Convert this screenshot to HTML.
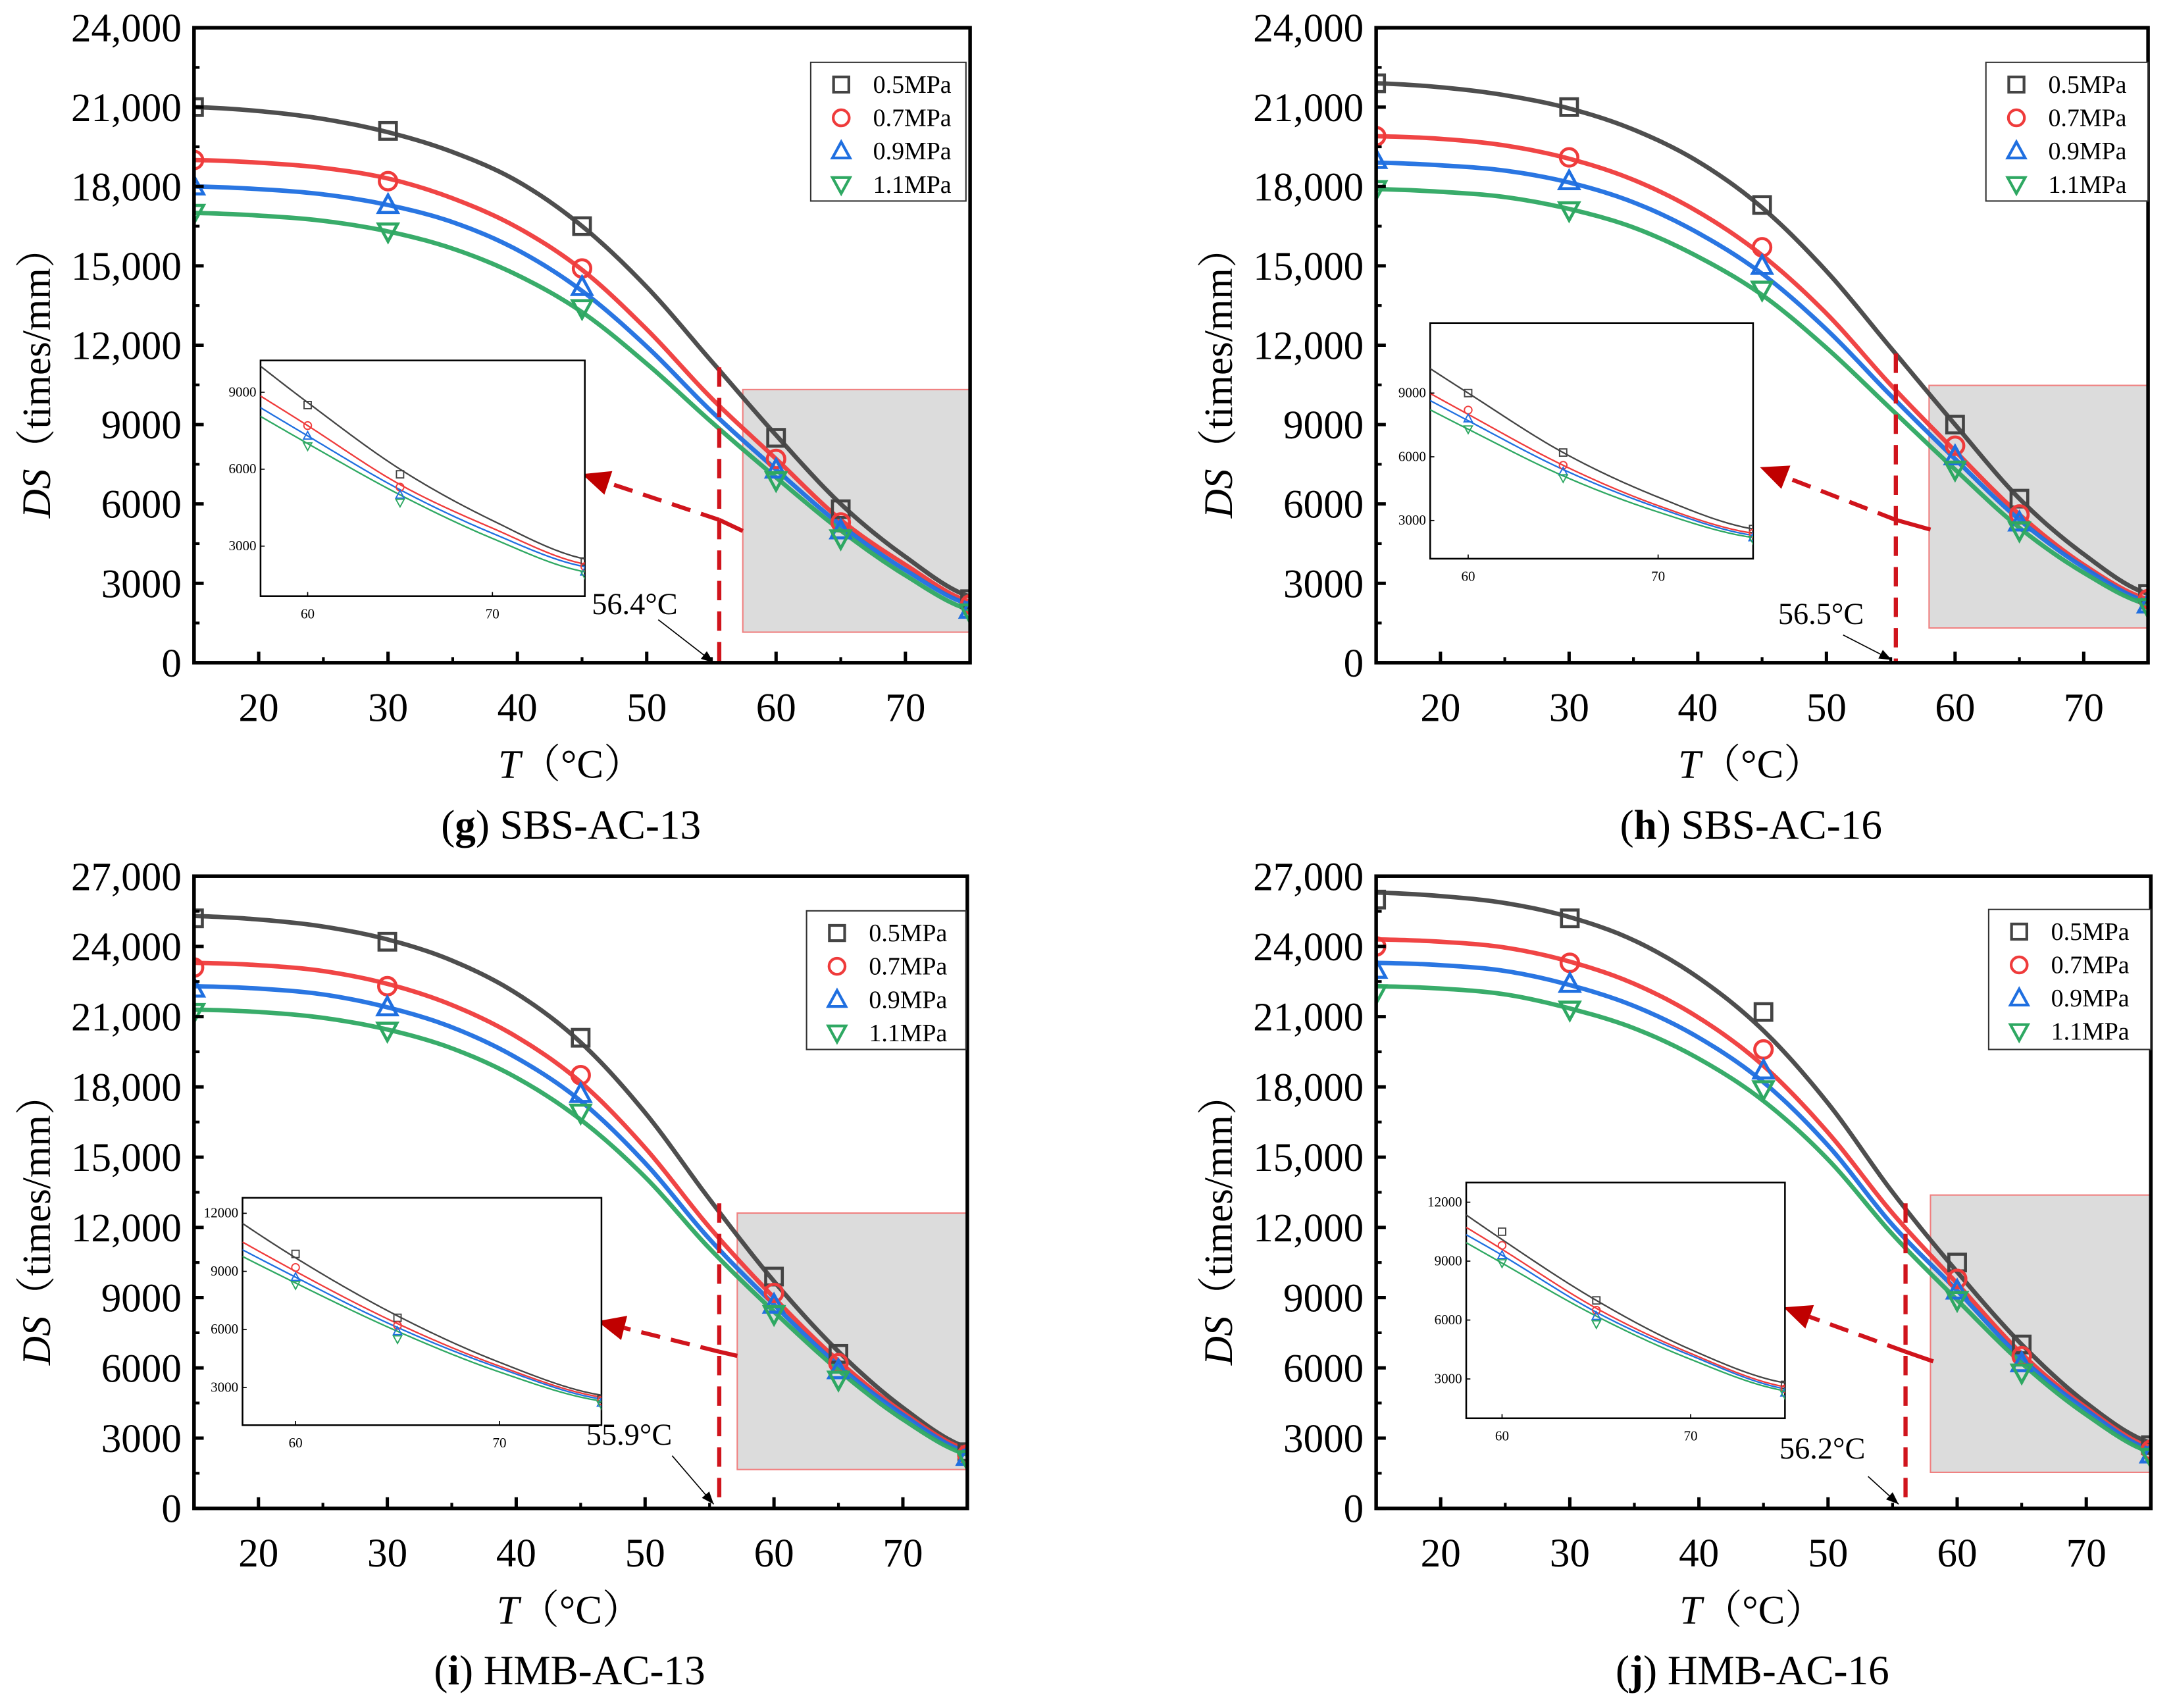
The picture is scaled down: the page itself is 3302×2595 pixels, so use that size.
<!DOCTYPE html>
<html><head><meta charset="utf-8"><style>
html,body{margin:0;padding:0;background:#fff}
svg{display:block}
svg text{font-family:"Liberation Serif","DejaVu Serif","Noto Serif CJK SC",serif}
</style></head><body>
<svg id="fig" width="3302" height="2595" viewBox="0 0 1568 1232" preserveAspectRatio="none" font-family="Liberation Serif, DejaVu Serif, serif" xmlns="http://www.w3.org/2000/svg"></svg>
<script>
// ---- data ----
const curveT = [15,20,25,30,35,40,45,50,55,60,65,70,75];
const markerT = [15,30,45,60,65,75];
const seriesNames = ["0.5MPa","0.7MPa","0.9MPa","1.1MPa"];
const seriesColors = ["#444444","#ef3b3b","#1f6fe0","#2ea862"];

const gCurve05=[21000,20850,20550,20050,19300,18200,16500,14200,11400,8600,6000,4000,2500];
const gCurve07=[19000,18900,18700,18300,17550,16450,14850,12600,10000,7700,5400,3700,2300];
const gCurve09=[18000,17900,17700,17300,16650,15600,14050,11950,9500,7300,5200,3500,2200];
const gCurve11=[17000,16900,16700,16300,15650,14650,13250,11300,9100,7000,5000,3300,2000];
const gMark05=[21000,20100,16500,8500,5800,2400];
const gMark07=[19000,18200,14900,7700,5300,2200];
const gMark09=[18000,17300,14200,7300,5000,2000];
const gMark11=[17000,16300,13400,6900,4700,1900];

const hCurve05=[21900,21750,21450,20950,20150,18950,17200,14800,11900,9000,6200,4100,2600];
const hCurve07=[19900,19800,19550,19050,18250,17050,15400,13200,10500,8000,5600,3700,2400];
const hCurve09=[18900,18800,18600,18150,17400,16250,14700,12600,10100,7700,5400,3600,2300];
const hCurve11=[17900,17800,17600,17150,16450,15350,13900,11900,9600,7300,5100,3400,2200];
const hMark05=[21900,21000,17300,9000,6200,2600];
const hMark07=[19900,19100,15700,8200,5600,2400];
const hMark09=[19000,18200,15000,7800,5300,2200];
const hMark11=[17900,17100,14100,7300,5000,2100];

const iCurve05=[25300,25150,24850,24300,23400,22000,19900,16900,13200,9700,6700,4300,2600];
const iCurve07=[23300,23200,22950,22400,21500,20150,18200,15400,12000,9000,6300,4100,2500];
const iCurve09=[22300,22200,21950,21400,20550,19250,17400,14750,11500,8700,6100,4000,2400];
const iCurve11=[21300,21200,20950,20450,19650,18400,16600,14150,11100,8400,5900,3800,2300];
const iMark05=[25200,24200,20100,9900,6600,2400];
const iMark07=[23100,22300,18500,9200,6200,2300];
const iMark09=[22200,21400,17700,8700,5900,2200];
const iMark11=[21200,20400,16900,8300,5500,2100];

const jCurve05=[26300,26150,25850,25250,24250,22650,20400,17300,13500,10100,7000,4500,2800];
const jCurve07=[24300,24200,23950,23350,22400,20950,18900,16050,12600,9600,6600,4300,2600];
const jCurve09=[23300,23200,22950,22350,21450,20100,18200,15500,12100,9300,6400,4200,2500];
const jCurve11=[22300,22200,21950,21350,20500,19200,17400,14900,11700,8900,6200,4000,2400];
const jMark05=[26000,25200,21200,10500,7000,2700];
const jMark07=[24000,23300,19600,9800,6500,2500];
const jMark09=[23000,22400,18700,9300,6200,2300];
const jMark11=[22000,21300,17900,8900,5800,2200];

const xTickVals=[20,30,40,50,60,70];
const yTicks24=[0,3000,6000,9000,12000,15000,18000,21000,24000];
const yTicks27=[0,3000,6000,9000,12000,15000,18000,21000,24000,27000];
const yTickLabels24=["0","3000","6000","9000","12,000","15,000","18,000","21,000","24,000"];
const yTickLabels27=["0","3000","6000","9000","12,000","15,000","18,000","21,000","24,000","27,000"];
const insetYTicks3=[3000,6000,9000];
const insetYTicks4=[3000,6000,9000,12000];
const insetXTicks=[60,70];
const criticalTemps=["56.4°C","56.5°C","55.9°C","56.2°C"];
const captionLetters=["g","h","i","j"];
const captionNames=[" SBS-AC-13"," SBS-AC-16"," HMB-AC-13"," HMB-AC-16"];

// ---- layout ----
const panels=[
 {id:"g",L:140,R:700,T:20,B:478,ymax:24000,ticks:yTicks24,labels:yTickLabels24,curves:[gCurve05,gCurve07,gCurve09,gCurve11],marks:[gMark05,gMark07,gMark09,gMark11],
  box:[536,281,700,456],vx:519,vtop:265,arrow:[[536,383],[519,375],[420,342]],lab:[427,443],sa:[[475,447],[515,478]],
  inset:{L:188,R:422,T:260,B:430,xmin:57.45,xmax:75,ymin:1050,ymax:10240,ticks:insetYTicks3},legend:[585,45,697,145]},
 {id:"h",L:993,R:1550,T:20,B:478,ymax:24000,ticks:yTicks24,labels:yTickLabels24,curves:[hCurve05,hCurve07,hCurve09,hCurve11],marks:[hMark05,hMark07,hMark09,hMark11],
  box:[1392,278,1550,453],vx:1368,vtop:255,arrow:[[1393,382],[1368,375],[1270,337]],lab:[1283,450],sa:[[1330,458],[1365,476]],
  inset:{L:1032,R:1265,T:233,B:403,xmin:58,xmax:75,ymin:1200,ymax:12300,ticks:insetYTicks3},legend:[1433,45,1550,145]},
 {id:"i",L:140,R:698,T:632,B:1088,ymax:27000,ticks:yTicks27,labels:yTickLabels27,curves:[iCurve05,iCurve07,iCurve09,iCurve11],marks:[iMark05,iMark07,iMark09,iMark11],
  box:[532,875,698,1060],vx:519,vtop:868,arrow:[[532,978],[519,975],[431,953]],lab:[423,1042],sa:[[485,1050],[515,1085]],
  inset:{L:175,R:434,T:864,B:1028,xmin:57.4,xmax:75,ymin:1050,ymax:12800,ticks:insetYTicks4},legend:[582,657,697,757]},
 {id:"j",L:993,R:1552,T:632,B:1088,ymax:27000,ticks:yTicks27,labels:yTickLabels27,curves:[jCurve05,jCurve07,jCurve09,jCurve11],marks:[jMark05,jMark07,jMark09,jMark11],
  box:[1393,862,1552,1062],vx:1375,vtop:868,arrow:[[1395,982],[1375,975],[1287,943]],lab:[1284,1052],sa:[[1348,1065],[1370,1085]],
  inset:{L:1058,R:1288,T:853,B:1023,xmin:58.1,xmax:75,ymin:1000,ymax:13000,ticks:insetYTicks4},legend:[1435,656,1552,757]}
];

const NS="http://www.w3.org/2000/svg";
const svg=document.getElementById("fig");
function mk(tag,attrs,parent){const e=document.createElementNS(NS,tag);for(const k in attrs)e.setAttribute(k,attrs[k]);(parent||svg).appendChild(e);return e;}

function interp(xs,ys,x){
  let i=0;while(i<xs.length-2&&x>xs[i+1])i++;
  const p0=ys[Math.max(i-1,0)],p1=ys[i],p2=ys[i+1],p3=ys[Math.min(i+2,ys.length-1)];
  const t=(x-xs[i])/(xs[i+1]-xs[i]);
  return 0.5*((2*p1)+(-p0+p2)*t+(2*p0-5*p1+4*p2-p3)*t*t+(-p0+3*p1-3*p2+p3)*t*t*t);
}
function curvePath(xs,ys,sx,sy,x0,x1){
  let d="";const n=160;
  for(let k=0;k<=n;k++){const x=x0+(x1-x0)*k/n;d+=(k?"L":"M")+sx(x).toFixed(2)+","+sy(interp(xs,ys,x)).toFixed(2);}
  return d;
}
function marker(g,type,cx,cy,s,color,w){
  let e;
  if(type===0)e=mk("rect",{x:cx-s,y:cy-s,width:2*s,height:2*s},g);
  else if(type===1)e=mk("circle",{cx:cx,cy:cy,r:s*1.05},g);
  else if(type===2)e=mk("path",{d:`M${cx},${cy-s*1.2}L${cx+s*1.15},${cy+s*0.9}L${cx-s*1.15},${cy+s*0.9}Z`},g);
  else e=mk("path",{d:`M${cx},${cy+s*1.2}L${cx+s*1.15},${cy-s*0.9}L${cx-s*1.15},${cy-s*0.9}Z`},g);
  e.setAttribute("fill","none");e.setAttribute("stroke",color);e.setAttribute("stroke-width",w);
  return e;
}

panels.forEach((p,pi)=>{
  const g=mk("g",{});
  
  
  const sx=v=>p.L+(v-15)/60*(p.R-p.L);
  const sy=v=>p.B-v/p.ymax*(p.B-p.T);
  const clip=mk("clipPath",{id:"clip"+p.id},g);
  mk("rect",{x:p.L,y:p.T,width:p.R-p.L,height:p.B-p.T},clip);

  const bx=mk("rect",{x:p.box[0],y:p.box[1],width:p.box[2]-p.box[0],height:p.box[3]-p.box[1],fill:"#dcdcdc",stroke:"#f08080","stroke-width":1},g);
  
  

  const cg=mk("g",{"clip-path":`url(#clip${p.id})`},g);
  p.curves.forEach((c,si)=>{
    const path=mk("path",{d:curvePath(curveT,c,sx,sy,15,75),fill:"none",stroke:seriesColors[si],"stroke-width":3.2,opacity:0.95},cg);
    
    
  });
  p.marks.forEach((m,si)=>{
    m.forEach((v,k)=>{
      const e=marker(cg,si,sx(markerT[k]),sy(v),6,seriesColors[si],2.2);
      
      
    });
  });

  const vl=mk("line",{x1:p.vx,y1:p.vtop,x2:p.vx,y2:p.B,stroke:"#d0141c","stroke-width":3,"stroke-dasharray":"14,8"},g);
  
  
  const a=p.arrow;
  const ar=mk("polyline",{points:a.slice(0,2).map(q=>q.join(",")).join(" "),fill:"none",stroke:"#d0141c","stroke-width":3},g);
  
  
  const dx=a[2][0]-a[1][0],dy=a[2][1]-a[1][1],len=Math.hypot(dx,dy),ux=dx/len,uy=dy/len;
  const tipBase=[a[2][0]-ux*20,a[2][1]-uy*20];
  const ad=mk("line",{x1:a[1][0],y1:a[1][1],x2:tipBase[0],y2:tipBase[1],stroke:"#d0141c","stroke-width":3,"stroke-dasharray":"14,8"},g);
  
  
  const ah=mk("path",{d:`M${a[2][0]},${a[2][1]}L${tipBase[0]-uy*9},${tipBase[1]+ux*9}L${tipBase[0]+uy*9},${tipBase[1]-ux*9}Z`,fill:"#c00000"},g);
  
  

  const s=p.sa;
  mk("line",{x1:s[0][0],y1:s[0][1],x2:s[1][0],y2:s[1][1],stroke:"#000","stroke-width":0.8},g);
  const sdx=s[1][0]-s[0][0],sdy=s[1][1]-s[0][1],sl=Math.hypot(sdx,sdy),vx=sdx/sl,vy=sdy/sl;
  const sb=[s[1][0]-vx*9,s[1][1]-vy*9];
  mk("path",{d:`M${s[1][0]},${s[1][1]}L${sb[0]-vy*3.5},${sb[1]+vx*3.5}L${sb[0]+vy*3.5},${sb[1]-vx*3.5}Z`,fill:"#000"},g);
  const lt=mk("text",{x:p.lab[0],y:p.lab[1],"font-size":22,fill:"#000"},g);
  lt.textContent=criticalTemps[pi];
  
  

  const I=p.inset;
  const ig=mk("g",{},g);
  
  
  mk("rect",{x:I.L,y:I.T,width:I.R-I.L,height:I.B-I.T,fill:"#fff",stroke:"#000","stroke-width":1.2},ig);
  const ix=v=>I.L+(v-I.xmin)/(I.xmax-I.xmin)*(I.R-I.L);
  const iy=v=>I.B-(v-I.ymin)/(I.ymax-I.ymin)*(I.B-I.T);
  const icp=mk("clipPath",{id:"iclip"+p.id},ig);
  mk("rect",{x:I.L,y:I.T,width:I.R-I.L,height:I.B-I.T},icp);
  const icg=mk("g",{"clip-path":`url(#iclip${p.id})`},ig);
  p.curves.forEach((c,si)=>{
    const e=mk("path",{d:curvePath(curveT,c,ix,iy,I.xmin,I.xmax),fill:"none",stroke:seriesColors[si],"stroke-width":1.1},icg);
    
    
  });
  p.marks.forEach((m,si)=>{
    m.forEach((v,k)=>{ if(markerT[k]>=60){const e=marker(icg,si,ix(markerT[k]),iy(v),2.6,seriesColors[si],0.9);
      
      }});
  });
  I.ticks.forEach(v=>{const y=iy(v);mk("line",{x1:I.L,y1:y,x2:I.L+3,y2:y,stroke:"#000","stroke-width":0.8},ig);
    const t=mk("text",{x:I.L-3,y:y+3,"font-size":10,"text-anchor":"end"},ig);t.textContent=v;});
  insetXTicks.forEach(v=>{const x=ix(v);mk("line",{x1:x,y1:I.B,x2:x,y2:I.B-3,stroke:"#000","stroke-width":0.8},ig);
    const t=mk("text",{x:x,y:I.B+16,"font-size":10,"text-anchor":"middle"},ig);t.textContent=v;});

  const fr=mk("rect",{x:p.L,y:p.T,width:p.R-p.L,height:p.B-p.T,fill:"none",stroke:"#000","stroke-width":2.6},g);
  
  
  p.ticks.forEach((v,k)=>{
    const y=sy(v);
    mk("line",{x1:p.L,y1:y,x2:p.L+7,y2:y,stroke:"#000","stroke-width":2.4},g);
    if(k<p.ticks.length-1)mk("line",{x1:p.L,y1:sy(v+1500),x2:p.L+4,y2:sy(v+1500),stroke:"#000","stroke-width":2},g);
    const t=mk("text",{x:p.L-9,y:y+10,"font-size":29,"text-anchor":"end"},g);
    t.textContent=p.labels[k];
    
    
  });
  xTickVals.forEach(v=>{
    const x=sx(v);
    mk("line",{x1:x,y1:p.B,x2:x,y2:p.B-8,stroke:"#000","stroke-width":2.4},g);
    mk("line",{x1:sx(v+5),y1:p.B,x2:sx(v+5),y2:p.B-4,stroke:"#000","stroke-width":2},g);
    const t=mk("text",{x:x,y:p.B+42,"font-size":29,"text-anchor":"middle"},g);
    t.textContent=v;
    
    
  });

  const cx=(p.L+p.R)/2;
  const xt=mk("text",{x:cx-8,y:p.B+83,"font-size":29,"text-anchor":"middle"},g);
  xt.innerHTML='<tspan font-style="italic">T</tspan>（°C）';
  
  
  const yc=(p.T+p.B)/2+20;
  const yt=mk("text",{x:0,y:0,"font-size":29,"text-anchor":"middle",transform:`translate(${p.L-104},${yc}) rotate(-90)`},g);
  yt.innerHTML='<tspan font-style="italic">DS</tspan>（times/mm）';
  
  
  const cap=mk("text",{x:cx-8,y:p.B+127,"font-size":30,"text-anchor":"middle"},g);
  cap.innerHTML='(<tspan font-weight="bold">'+captionLetters[pi]+'</tspan>)'+captionNames[pi];
  
  

  const lg=p.legend;
  const leg=mk("g",{},g);
  
  
  mk("rect",{x:lg[0],y:lg[1],width:lg[2]-lg[0],height:lg[3]-lg[1],fill:"#fff",stroke:"#333","stroke-width":1},leg);
  seriesNames.forEach((n,si)=>{
    const y=lg[1]+16+si*24;
    const e=mk("g",{},leg);
    
    
    marker(e,si,lg[0]+22,y,5.5,seriesColors[si],2);
    const t=mk("text",{x:lg[0]+45,y:y+6,"font-size":18},e);t.textContent=n;
  });
});
</script>
</body></html>
